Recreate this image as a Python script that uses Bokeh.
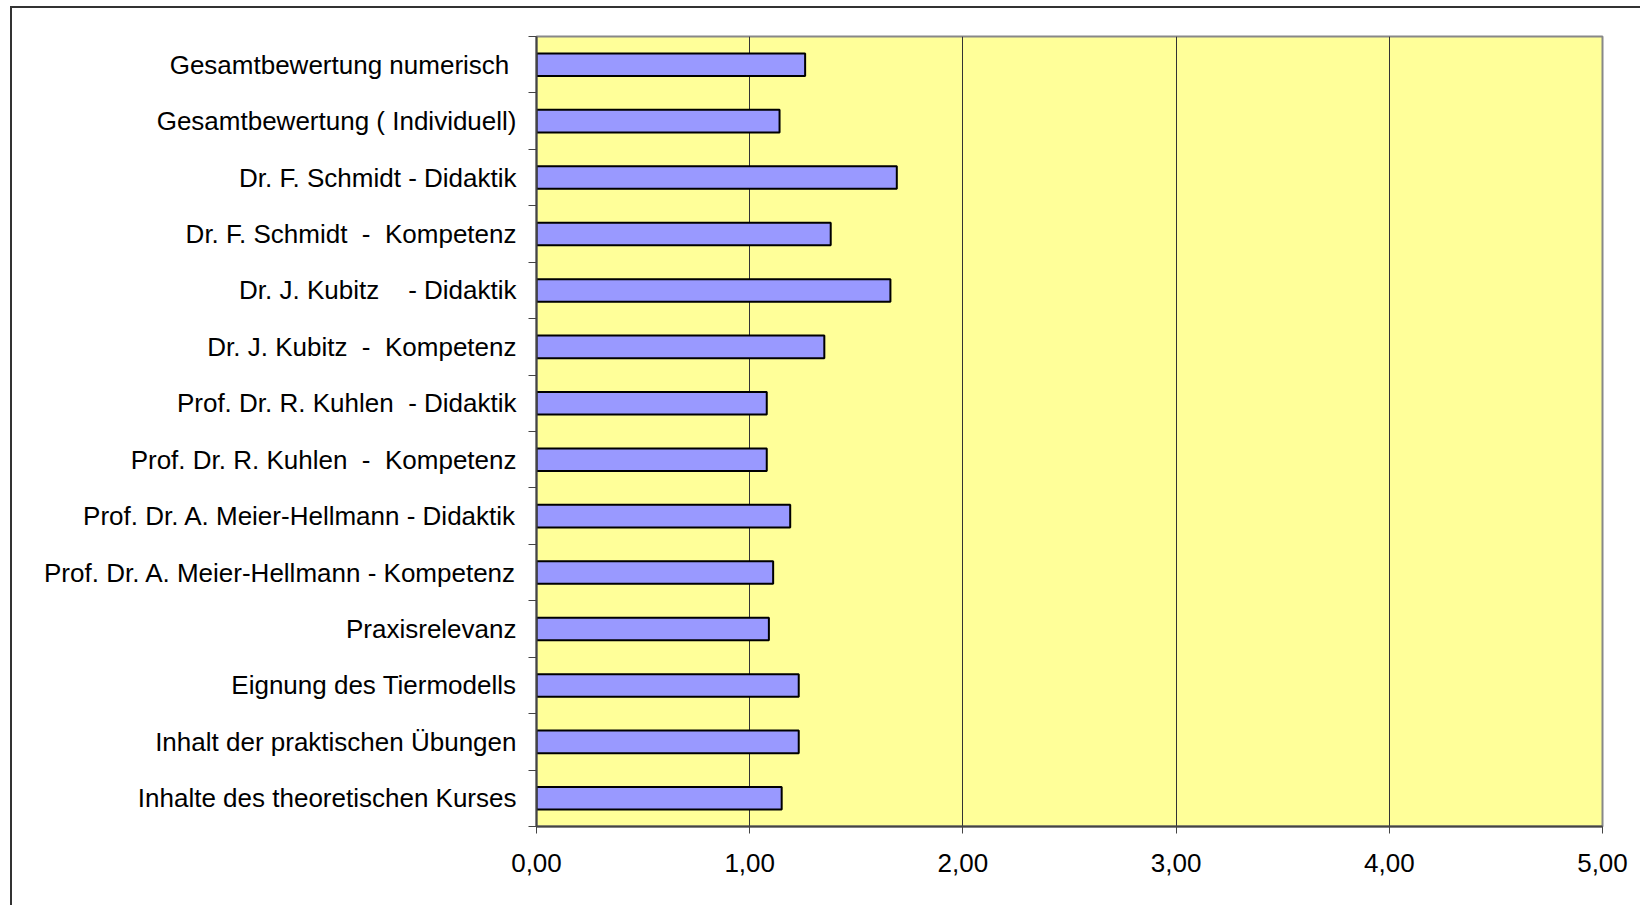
from bokeh.plotting import figure
from bokeh.models import Range1d, FixedTicker, ColumnDataSource
from bokeh.embed import file_html
from bokeh.resources import INLINE

NB = "\u00a0"
categories = [
    "Gesamtbewertung numerisch" + NB,
    "Gesamtbewertung ( Individuell)",
    "Dr. F. Schmidt - Didaktik",
    "Dr. F. Schmidt " + NB + "- " + NB + "Kompetenz",
    "Dr. J. Kubitz " + NB * 3 + "- Didaktik",
    "Dr. J. Kubitz " + NB + "- " + NB + "Kompetenz",
    "Prof. Dr. R. Kuhlen " + NB + "- Didaktik",
    "Prof. Dr. R. Kuhlen " + NB + "- " + NB + "Kompetenz",
    "Prof. Dr. A. Meier-Hellmann - Didaktik",
    "Prof. Dr. A. Meier-Hellmann - Kompetenz",
    "Praxisrelevanz",
    "Eignung des Tiermodells",
    "Inhalt der praktischen Übungen",
    "Inhalte des theoretischen Kurses",
]
values = [1.26, 1.14, 1.69, 1.38, 1.66, 1.35, 1.08, 1.08, 1.19, 1.11, 1.09, 1.23, 1.23, 1.15]
x_ticks = [0, 1, 2, 3, 4, 5]
x_tick_labels = ["0,00", "1,00", "2,00", "3,00", "4,00", "5,00"]

n = len(categories)
ypos = [n - 1 - i + 0.5 for i in range(n)]
src = ColumnDataSource(dict(y=ypos, v=values, cat=categories))

FONT = "Liberation Sans"

p = figure(width=1630, height=899, output_backend="svg", toolbar_location=None,
           x_range=Range1d(0, 5), y_range=Range1d(0, n),
           min_border_left=524, min_border_right=40, min_border_top=28, min_border_bottom=81)
p.styles = {"border-left": "2px solid #333333", "border-top": "2px solid #333333",
            "margin-left": "10px", "margin-top": "6px"}

p.background_fill_color = "#FFFF99"
p.border_fill_color = "white"
p.outline_line_color = "#888888"
p.outline_line_width = 2

p.hbar(y="y", right="v", left=0, height=0.4, source=src,
       fill_color="#9999FF", line_color="black", line_width=2)

# x axis
p.xaxis.ticker = FixedTicker(ticks=x_ticks)
p.xaxis.major_label_overrides = {t: l for t, l in zip(x_ticks, x_tick_labels)}
p.xaxis.major_label_text_font = FONT
p.xaxis.major_label_text_font_size = "26px"
p.xaxis.major_label_text_color = "black"
p.xaxis.major_label_standoff = 20
p.xaxis.major_tick_out = 7
p.xaxis.major_tick_in = 0
p.xaxis.minor_tick_line_color = None
p.xaxis.axis_line_color = "#444444"
p.xaxis.axis_line_width = 2
p.xaxis.major_tick_line_color = "#444444"
p.xaxis.major_tick_line_width = 1

# y axis (labels at centers, ticks at boundaries)
p.yaxis.ticker = FixedTicker(ticks=ypos, minor_ticks=list(range(n + 1)))
p.yaxis.major_label_overrides = {y: c for y, c in zip(ypos, categories)}
p.yaxis.major_label_text_font = FONT
p.yaxis.major_label_text_font_size = "26px"
p.yaxis.major_label_text_color = "black"
p.yaxis.major_label_standoff = 12
p.yaxis.major_tick_line_color = None
p.yaxis.minor_tick_out = 8
p.yaxis.minor_tick_in = 0
p.yaxis.minor_tick_line_color = "#444444"
p.yaxis.axis_line_color = "#444444"
p.yaxis.axis_line_width = 2

p.xgrid.ticker = FixedTicker(ticks=x_ticks)
p.xgrid.grid_line_color = "#333333"
p.xgrid.grid_line_width = 1
p.ygrid.grid_line_color = None

open("out.html", "w").write(file_html(p, INLINE))
